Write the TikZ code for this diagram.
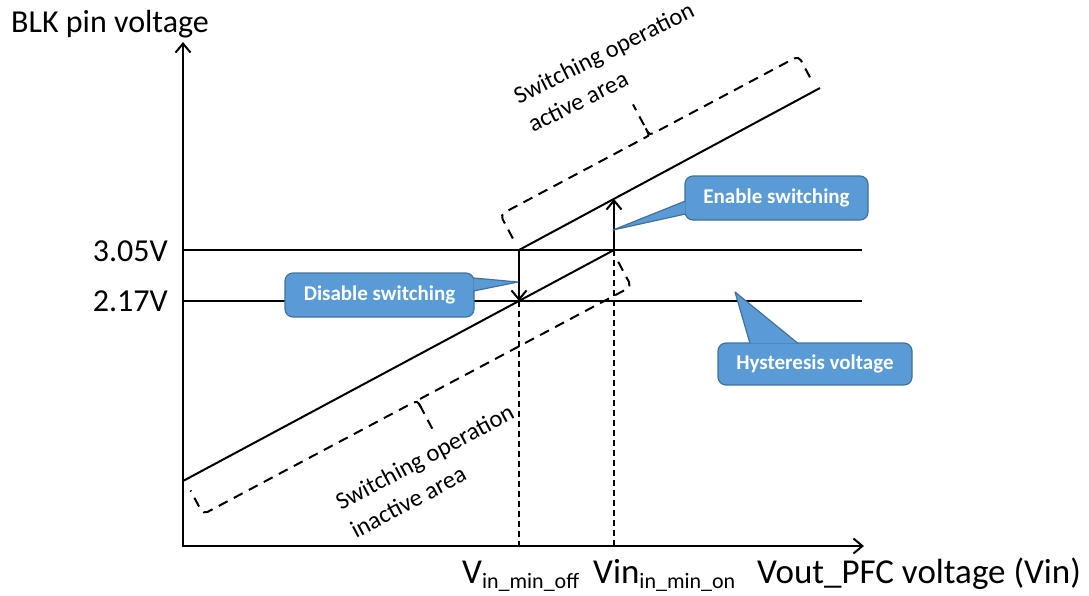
\documentclass[tikz,border=0pt]{standalone}
\usepackage{fontspec}
\setmainfont{Carlito}
\usetikzlibrary{arrows.meta,calc}
\definecolor{calloutfill}{HTML}{5B9BD5}
\definecolor{calloutedge}{HTML}{41719C}
\newcommand\lowsub[1]{\raisebox{-0.3ex}{\fontsize{22}{22}\selectfont #1}}
\newcommand\twolines[2]{\begin{tabular}[b]{@{}l@{}}#1\\#2\end{tabular}}

\begin{document}
\begin{tikzpicture}[x=1pt,y=-1pt,
  axis/.style={line width=2pt},
  curve/.style={line width=2pt},
  guide/.style={line width=1.3pt, dash pattern=on 6pt off 4pt},
  brace/.style={line width=2pt, dash pattern=on 10pt off 7pt},
  tip/.style={-{Straight Barb[length=9pt,width=15pt]}},
  label/.style={inner sep=0pt, font=\fontsize{32}{32}\selectfont},
  xlabel/.style={inner sep=0pt, anchor=base west, font=\fontsize{35}{35}\selectfont},
  tick/.style={inner sep=0pt, anchor=base east, font=\fontsize{32}{32}\selectfont},
  area/.style={inner sep=0pt, anchor=base west, font=\fontsize{24.5}{32}\selectfont},
  bubble/.style={rectangle, rounded corners=8pt, fill=calloutfill, draw=calloutedge,
    line width=1.2pt, text=white, inner sep=0pt,
    font=\fontsize{21}{21}\selectfont\bfseries},
  wedge/.style={fill=calloutfill},
  wedgeline/.style={draw=calloutedge, line width=1.2pt, line join=round},
]
\useasboundingbox (0,0) rectangle (1089,595);

% key points of the characteristic
\coordinate (O) at (183,546);
\coordinate (Ytop) at (183,42);
\coordinate (Xend) at (864,546);
\coordinate (Hi0) at (183,250);
\coordinate (Hi1) at (862,250);
\coordinate (Lo0) at (183,301);
\coordinate (Lo1) at (862,301);
\coordinate (Lstart) at (183,481);
\coordinate (Uoff) at (519,250);
\coordinate (Loff) at (519,301);
\coordinate (Lon) at (614,250);
\coordinate (Uon) at (614,199);
\coordinate (Uend) at (820,88);
\coordinate (Xoff) at (519,546);
\coordinate (Xon) at (614,546);

% axes
\draw[axis,tip] ([yshift=-1pt]O) -- (Ytop);
\draw[axis,tip] ([xshift=-1pt]O) -- (Xend);

% threshold levels
\draw[axis] (Hi0) -- (Hi1);
\draw[axis] (Lo0) -- (Lo1);

% hysteresis loop
\draw[curve] (Lstart) -- (Lon);
\draw[curve] (Uoff) -- (Uend);
\draw[curve,tip] (Uoff) -- (Loff);
\draw[curve,tip] (Lon) -- (Uon);

% projections onto the Vin axis
\draw[guide] (Loff) -- (Xoff);
\draw[guide] (Lon) -- (Xon);

% brace above the upper branch
\begin{scope}[shift={(519,250)}, rotate=28]
  \draw[brace] (0,-13) [rounded corners=5pt] -- (0,-40) -- (160,-40) [sharp corners]
    .. controls (169,-40) .. (169,-48) -- (169,-75);
  \draw[brace] (169,-48) .. controls (169,-40) .. (178,-40) [rounded corners=5pt]
    -- (338,-40) -- (338,-13);
\end{scope}

% brace below the lower branch
\begin{scope}[shift={(519,301)}, rotate=28]
  \draw[brace] (106,12) [rounded corners=5pt] -- (106,40) -- (-127,40) [sharp corners]
    .. controls (-136.5,40) .. (-136.5,48) -- (-136.5,72);
  \draw[brace] (-136.5,48) .. controls (-136.5,40) .. (-146,40) [rounded corners=5pt]
    -- (-379,40) -- (-379,13);
\end{scope}

% axis and level labels
\node[label, anchor=base west] (ylab) at (11,32) {BLK pin voltage};
\node[tick] (v305) at (168,261) {3.05V};
\node[tick] (v217) at (168,311) {2.17V};
\node[xlabel] (xoff) at (462,583) {V\lowsub{in\_min\_off}};
\node[xlabel] (xon) at (593,583) {Vin\lowsub{in\_min\_on}};
\node[xlabel] (xlab) at (757,583) {Vout\_PFC voltage (Vin)};

% area annotations
\node[area, rotate=26.5] (act) at (533,133) {\twolines{Switching operation}{active area}};
\node[area, rotate=28] (inact) at (356,539) {\twolines{Switching operation}{inactive area}};

% callouts
\coordinate (enableTip) at (613,230);
\coordinate (disableTip) at (518,282);
\coordinate (hystTip) at (735,292);

\node[bubble, minimum width=183pt, minimum height=44pt] (enable) at (776.5,198) {Enable switching};
\fill[wedge] ($(enable.west)+(1,3)$) -- (enableTip) -- ($(enable.west)+(1,16)$) -- cycle;
\draw[wedgeline] ($(enable.west)+(1,3)$) -- (enableTip) -- ($(enable.west)+(1,16)$);

\node[bubble, minimum width=189pt, minimum height=44pt] (disable) at (379.5,295) {Disable switching};
\fill[wedge] ($(disable.east)+(-1,-17)$) -- (disableTip) -- ($(disable.east)+(-1,-4)$) -- cycle;
\draw[wedgeline] ($(disable.east)+(-1,-17)$) -- (disableTip) -- ($(disable.east)+(-1,-4)$);

\node[bubble, minimum width=194pt, minimum height=42pt] (hyst) at (815,364) {Hysteresis voltage};
\fill[wedge] ($(hyst.north)+(-65,1)$) -- (hystTip) -- ($(hyst.north)+(-17,1)$) -- cycle;
\draw[wedgeline] ($(hyst.north)+(-65,1)$) -- (hystTip) -- ($(hyst.north)+(-17,1)$);
\end{tikzpicture}
\end{document}
